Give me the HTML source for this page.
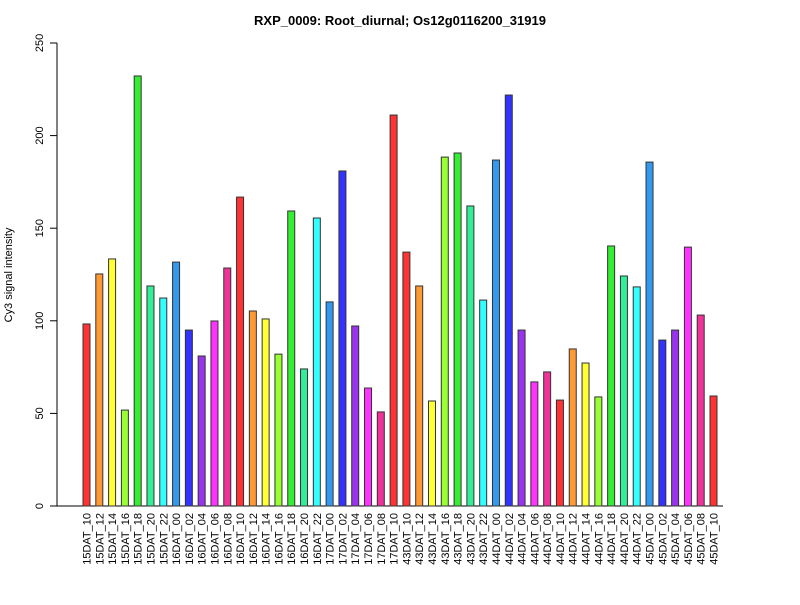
<!DOCTYPE html>
<html><head><meta charset="utf-8"><style>
body{margin:0;background:#fff}
svg text{font-family:"Liberation Sans",sans-serif}
</style></head><body>
<svg id="chart" width="800" height="600" xmlns="http://www.w3.org/2000/svg">
<text x="400" y="25" text-anchor="middle" font-size="13" font-weight="bold">RXP_0009: Root_diurnal; Os12g0116200_31919</text>
<text transform="translate(12,275) rotate(-90)" text-anchor="middle" font-size="11">Cy3 signal intensity</text>
<g id="yaxis"></g>
<g id="bars"></g>
<g id="xlabels"></g>
</svg>
<script>
const categories=["15DAT_10","15DAT_12","15DAT_14","15DAT_16","15DAT_18","15DAT_20","15DAT_22","16DAT_00","16DAT_02","16DAT_04","16DAT_06","16DAT_08","16DAT_10","16DAT_12","16DAT_14","16DAT_16","16DAT_18","16DAT_20","16DAT_22","17DAT_00","17DAT_02","17DAT_04","17DAT_06","17DAT_08","17DAT_10","43DAT_10","43DAT_12","43DAT_14","43DAT_16","43DAT_18","43DAT_20","43DAT_22","44DAT_00","44DAT_02","44DAT_04","44DAT_06","44DAT_08","44DAT_10","44DAT_12","44DAT_14","44DAT_16","44DAT_18","44DAT_20","44DAT_22","45DAT_00","45DAT_02","45DAT_04","45DAT_06","45DAT_08","45DAT_10"];
const values=[98.3,125.3,133.4,51.8,232.2,118.8,112.3,131.7,95,81,99.9,128.5,166.8,105.3,101,82,159.3,74,155.5,110.2,180.9,97.2,63.7,50.8,211.1,137.1,118.8,56.7,188.4,190.6,162,111.2,186.8,221.9,95,67,72.4,57.2,84.8,77.2,58.9,140.4,124.2,118.3,185.7,89.6,95,139.8,103.1,59.4];
const yTicks=[0,50,100,150,200,250];
const hourColors={"10":"#ff3333","12":"#ff9933","14":"#ffff33","16":"#99ff33","18":"#33ee33","20":"#33ee99","22":"#33ffff","00":"#3399ee","02":"#3333ff","04":"#9933ee","06":"#ff33ff","08":"#ee3399"};
const NS="http://www.w3.org/2000/svg";
const y0=506,y1=43,ymax=250;
const ys=v=>y0-(v/ymax)*(y0-y1);
const n=categories.length,xFirst=83,xLast=710;
const step=(xLast-xFirst)/(n-1),bw=7;
const xs=i=>xFirst+i*step;
const ya=document.getElementById('yaxis');
let l=document.createElementNS(NS,'line');


l.setAttribute('x1',57);l.setAttribute('x2',57);l.setAttribute('y1',ys(0));l.setAttribute('y2',ys(250));l.setAttribute('stroke','#000');
ya.appendChild(l);
yTicks.forEach(t=>{
 const tk=document.createElementNS(NS,'line');
 
 
 tk.setAttribute('x1',50);tk.setAttribute('x2',57);tk.setAttribute('y1',ys(t));tk.setAttribute('y2',ys(t));tk.setAttribute('stroke','#000');
 ya.appendChild(tk);
 const tx=document.createElementNS(NS,'text');
 
 
 tx.setAttribute('transform','translate(43,'+ys(t)+') rotate(-90)');
 tx.setAttribute('text-anchor','middle');tx.setAttribute('font-size','11');
 tx.textContent=t;ya.appendChild(tx);
});
const bl=document.createElementNS(NS,'line');


bl.setAttribute('x1',57);bl.setAttribute('x2',723);bl.setAttribute('y1',y0);bl.setAttribute('y2',y0);bl.setAttribute('stroke','#000');
ya.appendChild(bl);
const bg=document.getElementById('bars'),xg=document.getElementById('xlabels');
categories.forEach((c,i)=>{
 const r=document.createElementNS(NS,'rect');
 
 
 r.setAttribute('x',xs(i));r.setAttribute('width',bw);
 r.setAttribute('y',ys(values[i]));r.setAttribute('height',y0-ys(values[i]));
 r.setAttribute('fill',hourColors[c.slice(-2)]);r.setAttribute('stroke','#333');r.setAttribute('stroke-width','1');
 bg.appendChild(r);
 const t=document.createElementNS(NS,'text');
 
 
 t.setAttribute('transform','translate('+(xs(i)+bw/2+4)+',513) rotate(-90)');
 t.setAttribute('text-anchor','end');t.setAttribute('font-size','11');
 t.textContent=c;xg.appendChild(t);
});
</script>
</body></html>
